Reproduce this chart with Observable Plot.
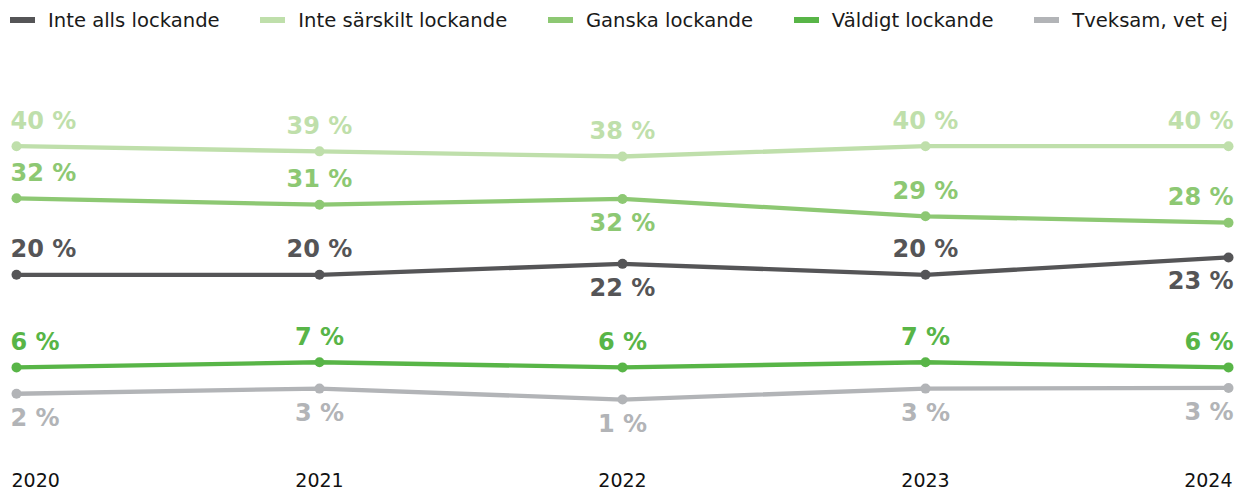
<!DOCTYPE html>
<html><head><meta charset="utf-8">
<script src="https://cdn.jsdelivr.net/npm/d3@7"></script>
<script src="https://cdn.jsdelivr.net/npm/@observablehq/plot@0.6"></script>
<style>
body{margin:0;background:#fff;font-family:"DejaVu Sans",sans-serif;}
#legend{height:40px;width:1237px;box-sizing:border-box;display:flex;justify-content:space-between;align-items:center;padding:0 9px 0 10px;font-size:19.6px;color:#1a1a1a}
.item{display:flex;align-items:center;gap:13px}
.sw{width:25px;height:6px;display:inline-block}
#chart svg{display:block}
</style></head><body>
<div id="legend"></div>
<div id="chart"></div>
<script>
// Categories
const years = ["2020", "2021", "2022", "2023", "2024"];
const seriesNames = ["Inte alls lockande", "Inte särskilt lockande", "Ganska lockande", "Väldigt lockande", "Tveksam, vet ej"];

// Plotted values (as positioned in the picture)
const inteAlls      = [20.0, 20.0, 21.7, 20.0, 22.7];
const inteSarskilt  = [40.0, 39.2, 38.4, 40.0, 40.0];
const ganska        = [31.9, 30.9, 31.8, 29.1, 28.1];
const valdigt       = [5.6, 6.4, 5.6, 6.4, 5.6];
const tveksam       = [1.5, 2.3, 0.6, 2.3, 2.4];

// Printed value labels
const inteAllsLabels     = [20, 20, 22, 20, 23];
const inteSarskiltLabels = [40, 39, 38, 40, 40];
const ganskaLabels       = [32, 31, 32, 29, 28];
const valdigtLabels      = [6, 7, 6, 7, 6];
const tveksamLabels      = [2, 3, 1, 3, 3];

// Styling
const colors = ["#555557", "#bfdfab", "#8dc873", "#58b547", "#b2b4b7"];
// label placement: true = below the point
const belowFlags = [
  [false, false, true, false, true],
  [false, false, false, false, false],
  [false, false, true, false, false],
  [false, false, false, false, false],
  [true, true, true, true, true]
];

const valueSets = [inteAlls, inteSarskilt, ganska, valdigt, tveksam];
const labelSets = [inteAllsLabels, inteSarskiltLabels, ganskaLabels, valdigtLabels, tveksamLabels];

const rows = [];
seriesNames.forEach((s, si) => {
  years.forEach((y, i) => {
    rows.push({series: s, year: y, value: valueSets[si][i], label: labelSets[si][i] + " %", idx: i, below: belowFlags[si][i]});
  });
});

// Legend
const legend = document.getElementById("legend");
seriesNames.forEach((s, i) => {
  const it = document.createElement("div");
  it.className = "item";
  const sw = document.createElement("span");
  sw.className = "sw";
  sw.style.background = colors[i];
  const tx = document.createElement("span");
  tx.textContent = s;
  it.appendChild(sw); it.appendChild(tx);
  legend.appendChild(it);
});

const lastIdx = years.length - 1;
function labelMark(filterFn, anchor, dx, below) {
  return Plot.text(rows.filter(d => filterFn(d) && d.below === below), {
    x: "year", y: "value", text: "label", fill: "series",
    textAnchor: anchor, dx: dx,
    lineAnchor: below ? "top" : "bottom",
    dy: below ? 15 : -17.5,
    fontSize: 24, fontWeight: "bold", fontFamily: "DejaVu Sans"
  });
}

const labelMarks = [];
for (const below of [false, true]) {
  labelMarks.push(labelMark(d => d.idx === 0, "start", -6, below));
  labelMarks.push(labelMark(d => d.idx > 0 && d.idx < lastIdx, "middle", 0, below));
  labelMarks.push(labelMark(d => d.idx === lastIdx, "end", 5, below));
}

const yearText = (filterFn, anchor, dx) => Plot.text(years.filter((y, i) => filterFn(i)), {
  x: d => d, frameAnchor: "bottom", dy: 84, lineAnchor: "bottom",
  textAnchor: anchor, dx: dx, fill: "#111", fontSize: 19, fontFamily: "DejaVu Sans"
});

const chart = Plot.plot({
  width: 1237,
  height: 453,
  marginLeft: 14.3,
  marginRight: 7.3,
  marginTop: 105.7,
  marginBottom: 90.1,
  style: {fontFamily: "DejaVu Sans", background: "#fff"},
  x: {type: "point", domain: years, padding: 0, axis: null},
  y: {domain: [0, 40], axis: null},
  color: {domain: seriesNames, range: colors},
  marks: [
    Plot.line(rows, {x: "year", y: "value", z: "series", stroke: "series", strokeWidth: 4.3, strokeLinejoin: "round"}),
    Plot.dot(rows, {x: "year", y: "value", fill: "series", r: 5}),
    ...labelMarks,
    yearText(i => i === 0, "start", -5),
    yearText(i => i > 0 && i < lastIdx, "middle", 0),
    yearText(i => i === lastIdx, "end", 4)
  ]
});
document.getElementById("chart").appendChild(chart);
</script>
</body></html>
